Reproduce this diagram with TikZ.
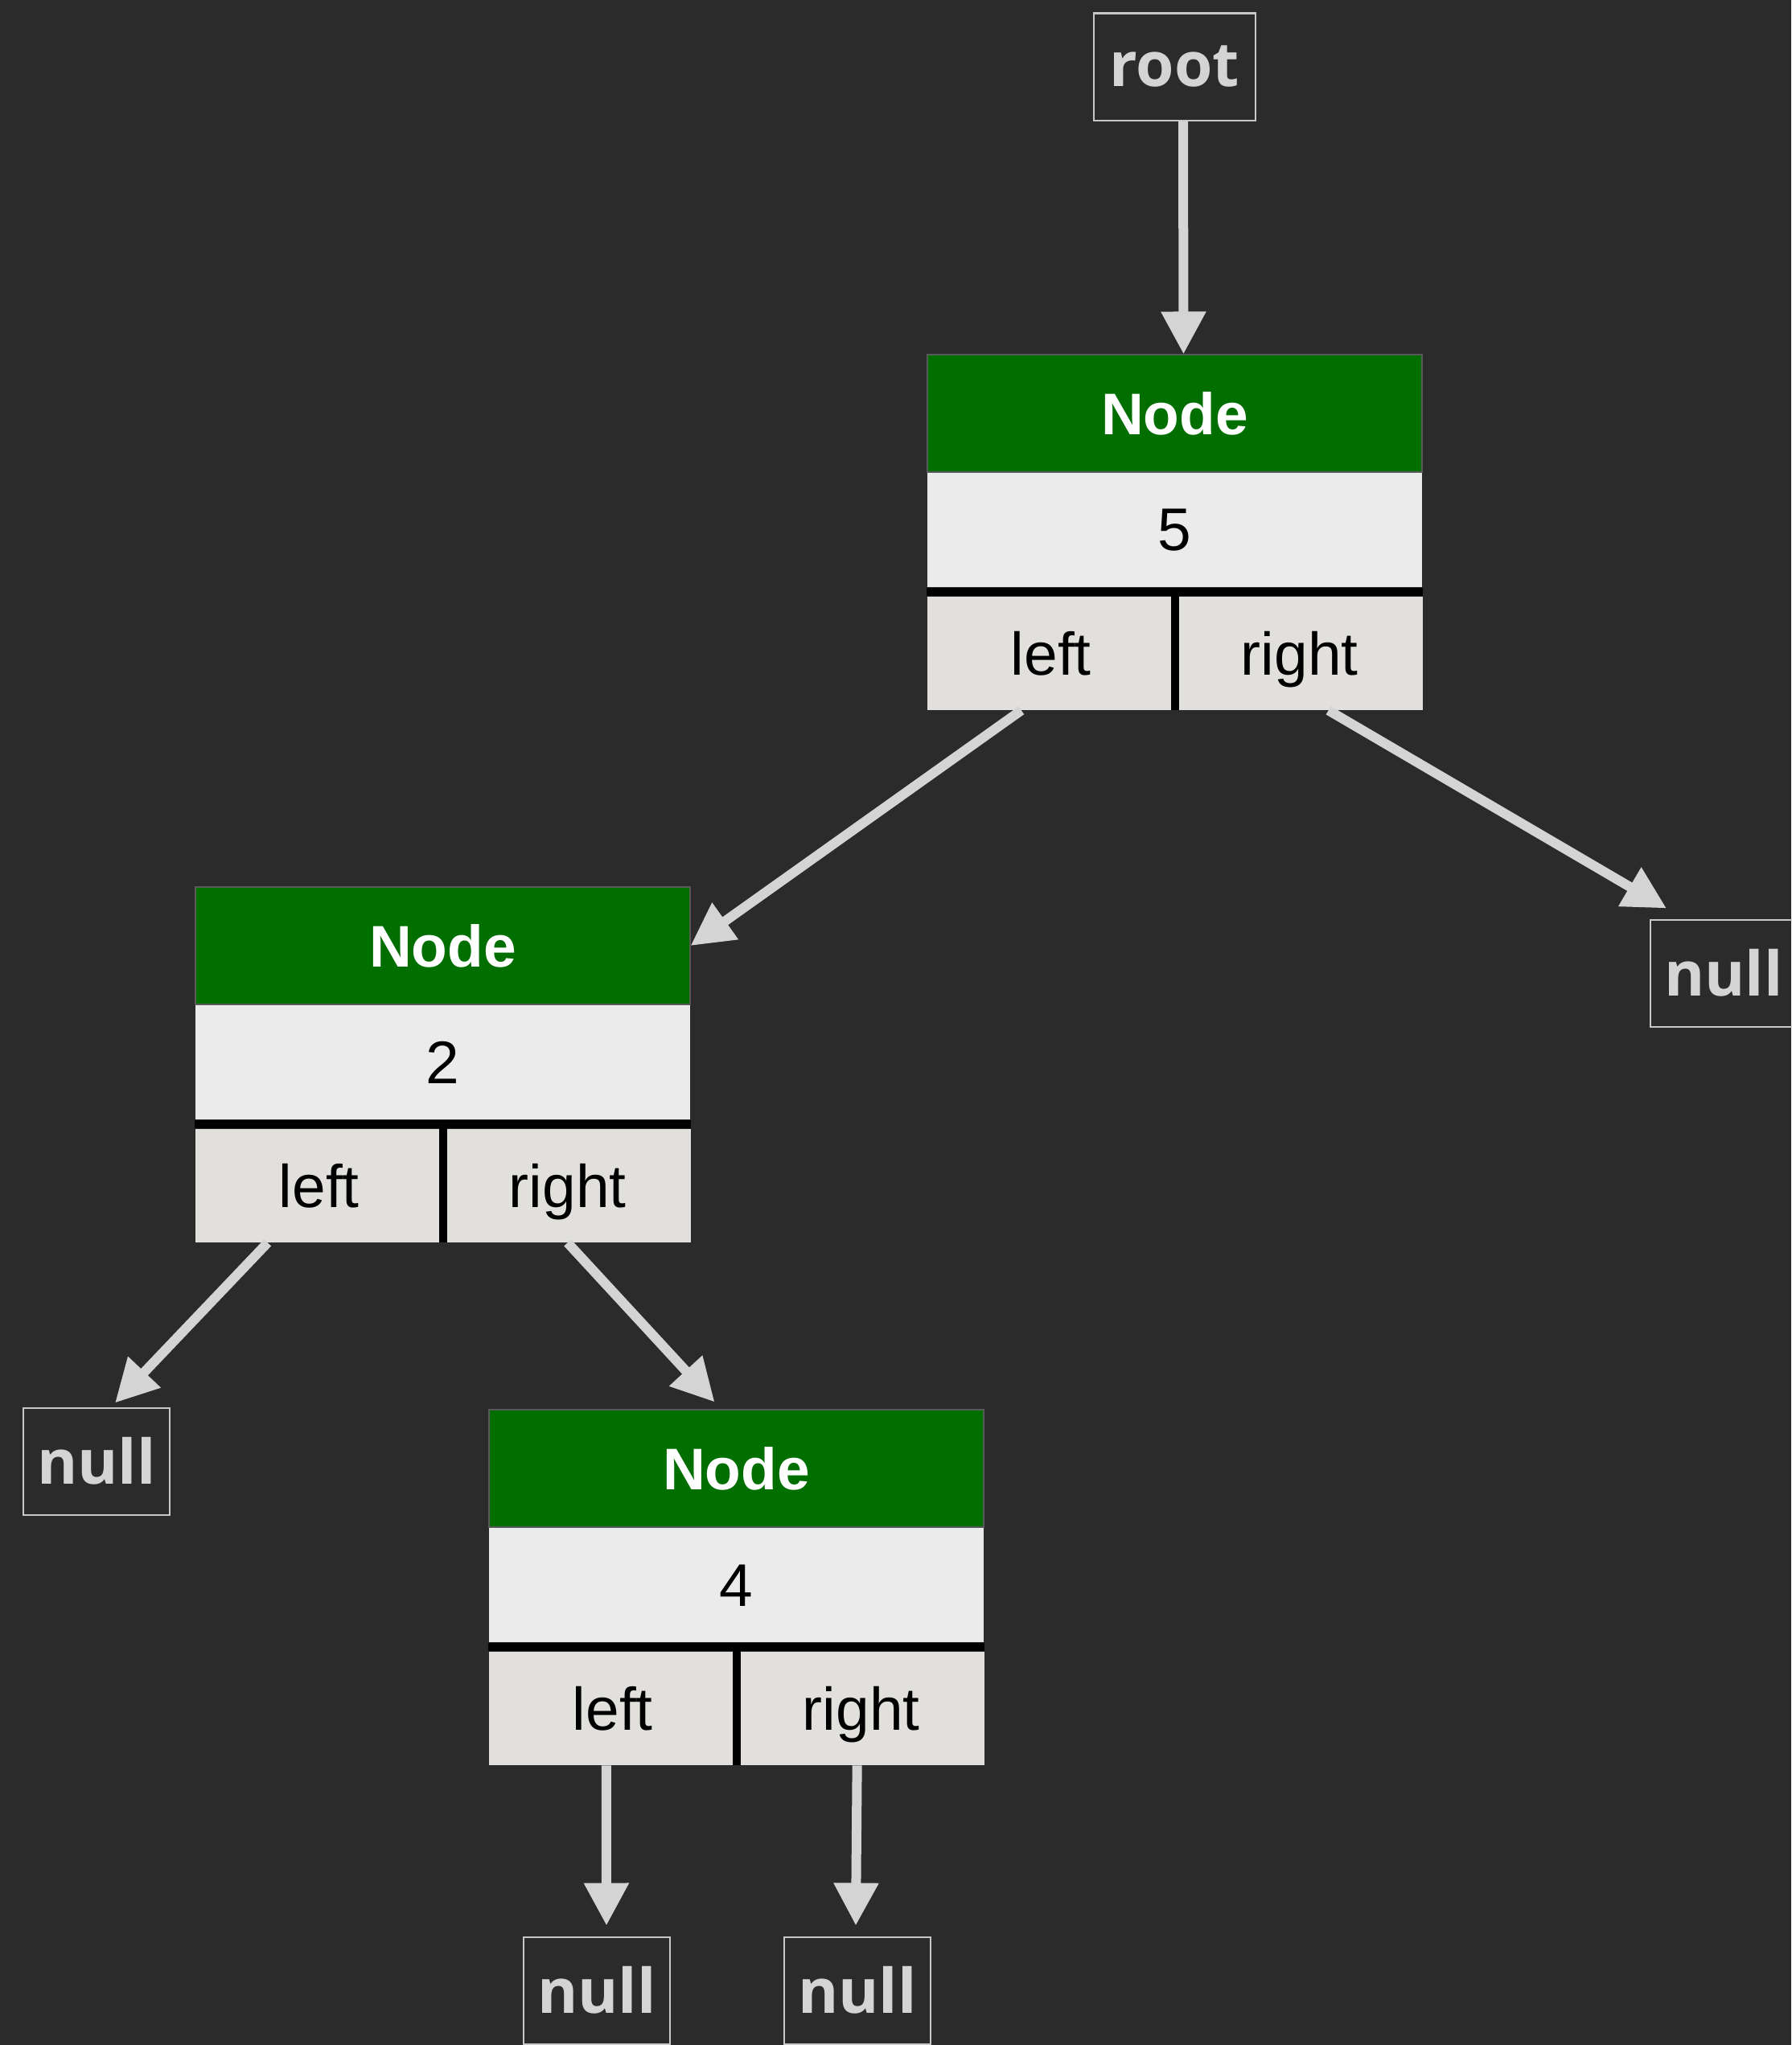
\documentclass[tikz,border=0pt]{standalone}
\usepackage{fontspec}
\setmainfont{Liberation Sans}
\newfontfamily\nilfont{Open Sans}
\usetikzlibrary{arrows.meta,positioning}

\definecolor{bgdark}{HTML}{2B2B2B}
\definecolor{nodegreen}{HTML}{006F00}
\definecolor{valgray}{HTML}{EBEBEB}
\definecolor{cellgray}{HTML}{E1E0DC}
\definecolor{ptrgray}{HTML}{D4D4D4}
\definecolor{rimgray}{HTML}{C8C8C8}

\tikzset{
  head/.style={rectangle, fill=nodegreen, draw=gray!70!black, line width=0.3pt,
    minimum width=6.15cm, minimum height=1.46cm, inner sep=0pt,
    text=white, font=\bfseries\fontsize{20.8}{24}\selectfont},
  val/.style={rectangle, fill=valgray, minimum width=6.15cm, minimum height=1.42cm,
    inner sep=0pt, font=\fontsize{21.3}{25}\selectfont},
  cell/.style={rectangle, fill=cellgray, minimum width=3.075cm, minimum height=1.41cm,
    inner sep=0pt, text height=0.55cm, text depth=0cm, font=\fontsize{21.3}{25}\selectfont},
  sep/.style={black, line width=0.1cm},
  nil/.style={rectangle, draw=rimgray, line width=0.02cm, text=ptrgray, inner sep=0pt,
    minimum width=1.82cm, minimum height=1.33cm,
    font=\nilfont\bfseries\fontsize{21.8}{25}\selectfont},
  ptr/.style={ptrgray, line width=0.12cm, ->}
}

\begin{document}
\begin{tikzpicture}[>={Triangle[length=0.53cm,width=0.53cm]}]
    \useasboundingbox (0,0) rectangle (22.27,-25.43);
    \fill[bgdark] (0,0) rectangle (22.27,-25.43);

    \node[nil, minimum width=2.01cm] (root) at (14.60,-0.83) {root};

    \node[head] (n5head) at (14.605,-5.14) {Node};
    \node[val, below=0pt of n5head] (n5val) {5};
    \node[cell, below right=0.1cm and 0pt of n5val.south west] (n5left) {left};
    \node[cell, right=0pt of n5left] (n5right) {right};
    \draw[sep] ([yshift=-0.05cm]n5val.south west) -- ([yshift=-0.05cm]n5val.south east);
    \draw[sep] (n5left.north east) -- (n5left.south east);

    \node[head] (n2head) at (5.505,-11.76) {Node};
    \node[val, below=0pt of n2head] (n2val) {2};
    \node[cell, below right=0.1cm and 0pt of n2val.south west] (n2left) {left};
    \node[cell, right=0pt of n2left] (n2right) {right};
    \draw[sep] ([yshift=-0.05cm]n2val.south west) -- ([yshift=-0.05cm]n2val.south east);
    \draw[sep] (n2left.north east) -- (n2left.south east);

    \node[head] (n4head) at (9.155,-18.26) {Node};
    \node[val, below=0pt of n4head] (n4val) {4};
    \node[cell, below right=0.1cm and 0pt of n4val.south west] (n4left) {left};
    \node[cell, right=0pt of n4left] (n4right) {right};
    \draw[sep] ([yshift=-0.05cm]n4val.south west) -- ([yshift=-0.05cm]n4val.south east);
    \draw[sep] (n4left.north east) -- (n4left.south east);

    \node[nil] (nullr) at (21.43,-12.10) {null};
    \node[nil] (nulll) at (1.20,-18.17) {null};
    \node[nil] (null3) at (7.42,-24.75) {null};
    \node[nil] (null4) at (10.66,-24.75) {null};

    \draw[ptr] ([xshift=0.11cm]root.south) -- ([xshift=0.11cm]n5head.north);
    \draw[ptr] ([xshift=-0.37cm]n5left.south) -- (n2head.east);
    \draw[ptr] ([xshift=0.36cm]n5right.south) -- ([shift={(0.21cm,0.13cm)}]nullr.north west);
    \draw[ptr] ([xshift=-0.64cm]n2left.south) -- ([shift={(0.23cm,0.05cm)}]nulll.north);
    \draw[ptr] (n2right.south) -- ([shift={(-0.27cm,0.09cm)}]n4head.north);
    \draw[ptr] ([xshift=-0.08cm]n4left.south) -- ([shift={(0.12cm,0.13cm)}]null3.north);
    \draw[ptr] ([xshift=-0.05cm]n4right.south) -- ([shift={(-0.02cm,0.13cm)}]null4.north);
\end{tikzpicture}
\end{document}
